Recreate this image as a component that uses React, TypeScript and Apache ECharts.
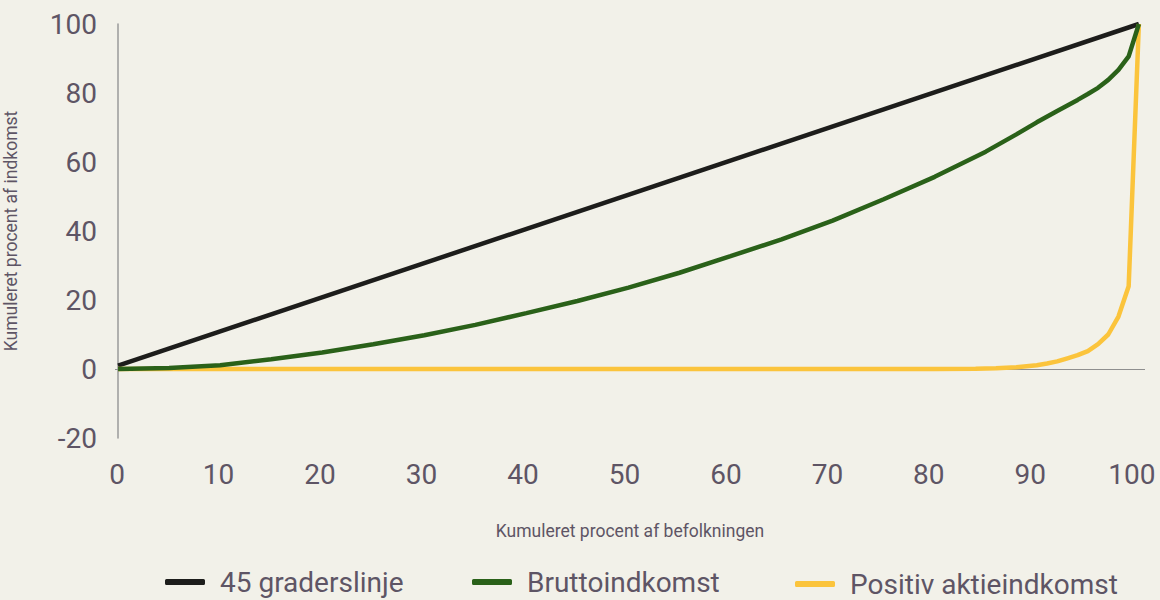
import React, { useEffect, useRef } from 'react';
import * as echarts from 'echarts';

const seriesNames = ['45 graderslinje', 'Bruttoindkomst', 'Positiv aktieindkomst'];

const blackX = [0, 100];
const blackY = [1, 100];

const greenX = [0, 5, 10, 15, 20, 25, 30, 35, 40, 45, 50, 55, 60, 65, 70, 75, 80, 85, 88, 90, 92, 94, 95, 96, 97, 98, 99, 100];
const greenY = [0, 0.3, 1.1, 2.8, 4.8, 7.2, 9.8, 12.8, 16.2, 19.7, 23.6, 27.9, 32.7, 37.6, 43, 49.2, 55.7, 63, 68, 71.5, 74.8, 78, 79.7, 81.5, 83.8, 86.7, 90.6, 100];

const yellowX = [0, 80, 84, 86, 88, 90, 91, 92, 93, 94, 95, 96, 97, 98, 99, 100];
const yellowY = [0, 0, 0.1, 0.2, 0.5, 1.1, 1.6, 2.2, 3.1, 4, 5.2, 7.2, 10, 15.2, 24, 100];

const xTicks = [0, 10, 20, 30, 40, 50, 60, 70, 80, 90, 100];

const zip = (xs: number[], ys: number[]) => xs.map((x, i) => [x, ys[i]]);

const TEXT = '#5e5565';
const FONT = 'Roboto';

export default function App() {
  const ref = useRef<HTMLDivElement>(null);
  useEffect(() => {
    document.body.style.margin = '0';
    const chart = echarts.init(ref.current!, null, { renderer: 'svg' });
    const legendBase = {
      selectedMode: false,
      icon: 'roundRect',
      itemWidth: 40,
      itemHeight: 6,
      textStyle: { color: TEXT, fontFamily: FONT, fontSize: 28, padding: [0, 0, 0, 10] },
    };
    chart.setOption({
      animation: false,
      backgroundColor: '#f2f1e9',
      textStyle: { fontFamily: FONT },
      grid: { left: 115, right: 15, top: 24, bottom: 162, containLabel: false, outerBoundsMode: 'none' },
      legend: [
        { ...legendBase, data: [seriesNames[0]], left: 160, top: 563 },
        { ...legendBase, data: [seriesNames[1]], left: 467, top: 563 },
        { ...legendBase, data: [seriesNames[2]], left: 790, top: 565 },
      ],
      xAxis: [
        {
          type: 'value',
          min: -0.3,
          max: 100.6,
          axisLine: { show: false, onZero: false },
          axisTick: { show: false },
          splitLine: { show: false },
          axisLabel: { show: false },
        },
        {
          type: 'value',
          position: 'bottom',
          min: -0.2,
          max: 101.3,
          name: 'Kumuleret procent af befolkningen',
          nameLocation: 'middle',
          nameGap: 84,
          nameTextStyle: { color: TEXT, fontSize: 17.5, fontFamily: FONT },
          axisLine: { show: false, onZero: false },
          axisTick: { show: false },
          splitLine: { show: false },
          axisLabel: { customValues: xTicks, color: TEXT, fontSize: 28, fontFamily: FONT, margin: 22 },
        },
      ],
      yAxis: {
        type: 'value',
        min: -20,
        max: 100,
        interval: 20,
        name: 'Kumuleret procent af indkomst',
        nameLocation: 'middle',
        nameGap: 95,
        nameRotate: 90,
        nameTextStyle: { color: TEXT, fontSize: 17.5, fontFamily: FONT },
        axisLine: { show: true, lineStyle: { color: '#9a9a9a', width: 1.5 } },
        axisTick: { show: false },
        splitLine: { show: false },
        axisLabel: { color: TEXT, fontSize: 28, fontFamily: FONT, margin: 18 },
      },
      series: [
        {
          name: seriesNames[0],
          type: 'line',
          xAxisIndex: 0,
          data: zip(blackX, blackY),
          showSymbol: false,
          symbol: 'none',
          lineStyle: { color: '#1d1d1b', width: 4.5 },
          itemStyle: { color: '#1d1d1b' },
          z: 3,
          markLine: {
            silent: true,
            symbol: 'none',
            label: { show: false },
            lineStyle: { color: '#8f8f8f', width: 1.2, type: 'solid' },
            data: [{ yAxis: 0 }],
            z: 1,
          },
        },
        {
          name: seriesNames[2],
          type: 'line',
          xAxisIndex: 0,
          data: zip(yellowX, yellowY),
          showSymbol: false,
          symbol: 'none',
          lineStyle: { color: '#fbc43c', width: 4.5 },
          itemStyle: { color: '#fbc43c' },
          z: 4,
        },
        {
          name: seriesNames[1],
          type: 'line',
          xAxisIndex: 0,
          data: zip(greenX, greenY),
          showSymbol: false,
          symbol: 'none',
          lineStyle: { color: '#2a6119', width: 4.5 },
          itemStyle: { color: '#2a6119' },
          z: 5,
        },
      ],
    });
    return () => chart.dispose();
  }, []);
  return <div ref={ref} style={{ width: 1160, height: 600 }} />;
}
